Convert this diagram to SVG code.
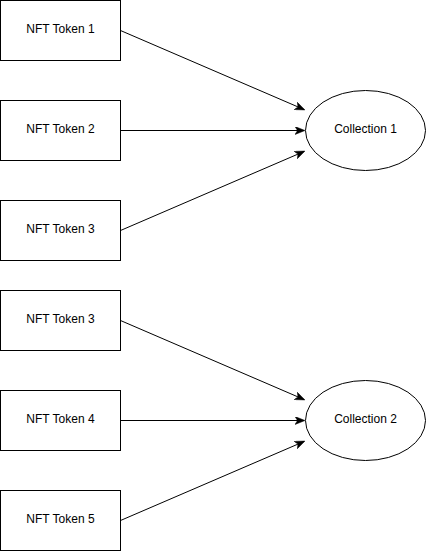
<svg xmlns="http://www.w3.org/2000/svg" width="426" height="551" viewBox="0 0 426 551">
<style>
.n{fill:#fff;stroke:#000;stroke-width:1}
.t{font-family:"Liberation Sans",Arial,sans-serif;font-size:12px;fill:#000;text-anchor:middle}
.e{stroke:#000;stroke-width:1;fill:none;marker-end:url(#a)}
</style>
<defs>
<marker id="a" viewBox="0 0 10 8" refX="9" refY="4" markerWidth="10" markerHeight="8" markerUnits="userSpaceOnUse" orient="auto">
<path d="M0,0 L10,4 L0,8 L2.5,4 Z" fill="#000" stroke="#000" stroke-width="0.5"/>
</marker>
</defs>
<rect width="426" height="551" fill="#fff"/>
<g id="connectors">
<line class="e" x1="120.5" y1="30.5" x2="304" y2="109.5"/>
<line class="e" x1="120.5" y1="130.5" x2="304" y2="130.5"/>
<line class="e" x1="120.5" y1="230.5" x2="304" y2="151.5"/>
<line class="e" x1="120.5" y1="320.5" x2="304" y2="399.5"/>
<line class="e" x1="120.5" y1="420.5" x2="304" y2="420.5"/>
<line class="e" x1="120.5" y1="520.5" x2="304" y2="441.5"/>
</g>
<g id="t1"><rect class="n" x="0.5" y="0.5" width="120" height="60"/><text class="t" x="60.5" y="33">NFT Token 1</text></g>
<g id="t2"><rect class="n" x="0.5" y="100.5" width="120" height="60"/><text class="t" x="60.5" y="133">NFT Token 2</text></g>
<g id="t3"><rect class="n" x="0.5" y="200.5" width="120" height="60"/><text class="t" x="60.5" y="233">NFT Token 3</text></g>
<g id="t3b"><rect class="n" x="0.5" y="290.5" width="120" height="60"/><text class="t" x="60.5" y="323">NFT Token 3</text></g>
<g id="t4"><rect class="n" x="0.5" y="390.5" width="120" height="60"/><text class="t" x="60.5" y="423">NFT Token 4</text></g>
<g id="t5"><rect class="n" x="0.5" y="490.5" width="120" height="60"/><text class="t" x="60.5" y="523">NFT Token 5</text></g>
<g id="c1"><ellipse class="n" cx="365.5" cy="130.5" rx="60" ry="40"/><text class="t" x="365.5" y="133">Collection 1</text></g>
<g id="c2"><ellipse class="n" cx="365.5" cy="420.5" rx="60" ry="40"/><text class="t" x="365.5" y="423">Collection 2</text></g>
</svg>
